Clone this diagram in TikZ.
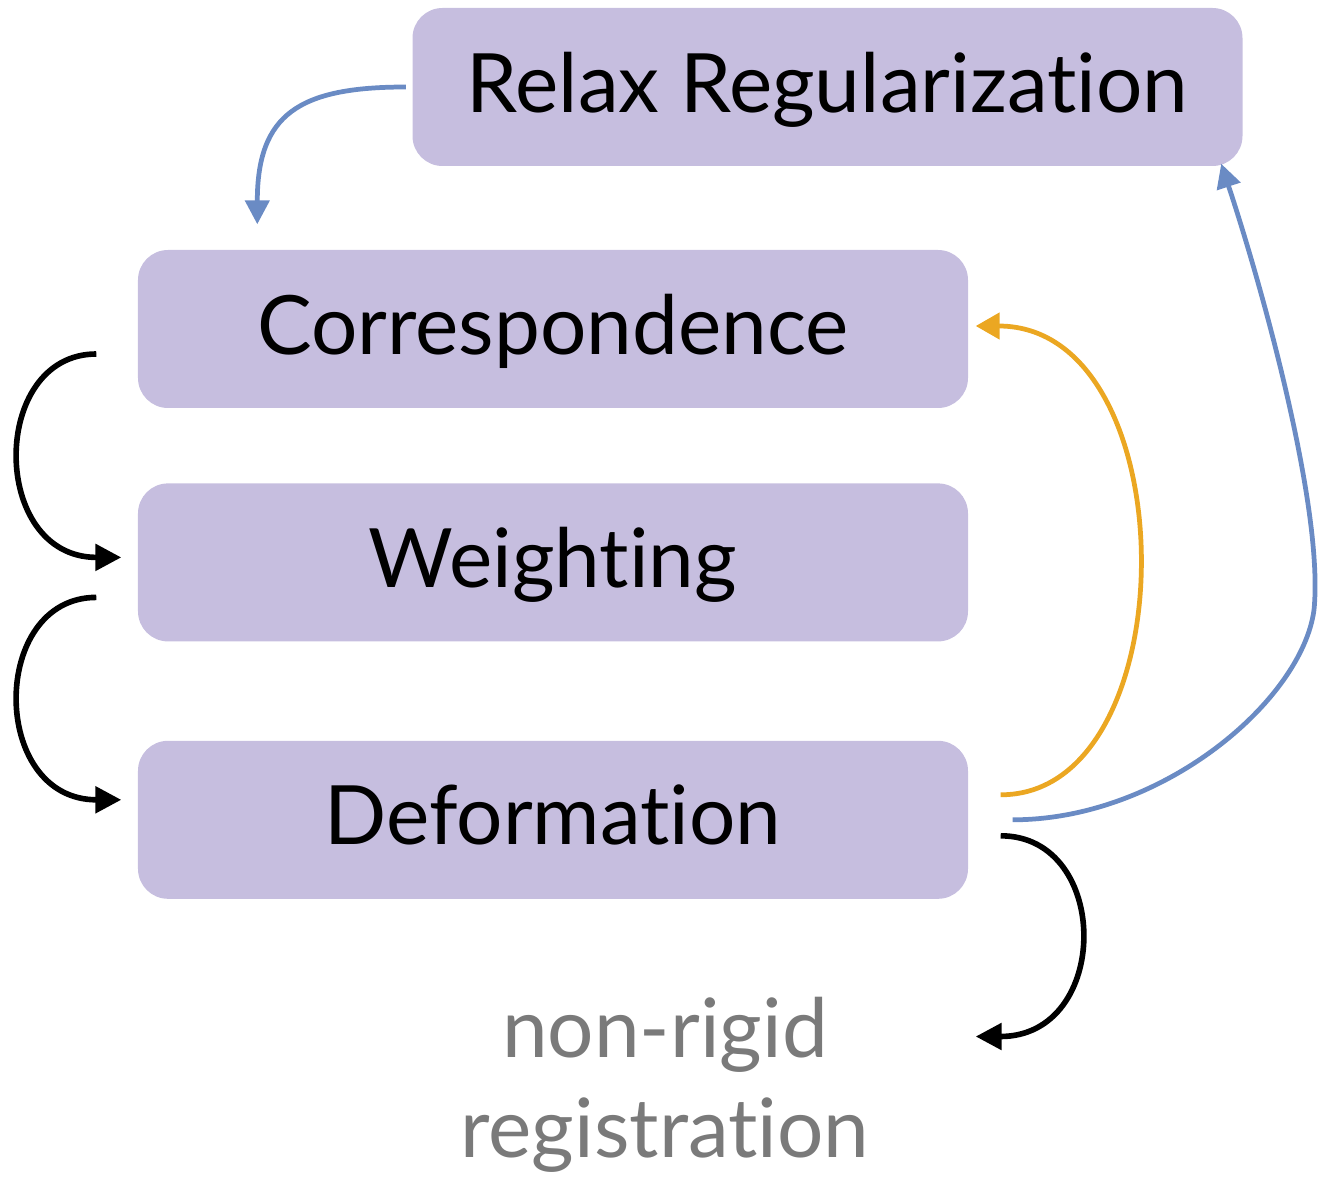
\documentclass[tikz,border=0pt]{standalone}
\usepackage{fontspec}
\setmainfont[Ligatures=NoCommon]{Lato}
\usetikzlibrary{arrows.meta, positioning, calc}
\definecolor{lila}{RGB}{198,190,223}
\definecolor{blau}{RGB}{106,139,196}
\definecolor{orange}{RGB}{235,167,34}
\definecolor{grau}{RGB}{122,122,122}

\begin{document}
\begin{tikzpicture}[
    kasten/.style = {rectangle, fill=lila, rounded corners=0.3cm, inner sep=0pt,
                     minimum width=8.3cm, minimum height=1.58cm, text depth=0.1cm},
    pil/.style = {black, line width=1.6pt, -{Triangle[length=0.26cm, width=0.26cm]}},
    bpil/.style = {blau, line width=1.35pt, -{Triangle[length=0.24cm, width=0.24cm]}},
    opil/.style = {orange, line width=1.35pt, -{Triangle[length=0.24cm, width=0.26cm]}},
    font=\fontsize{23.3}{28.5}\selectfont
    ]
  \useasboundingbox (0,0) rectangle (13.18,-11.78);

  \node[kasten] (k0) at (8.275,-0.87) {Relax Regularization};
  \node[kasten] (k1) at (5.53,-3.29) {Correspondence};
  \node[kasten] (k2) [below=0.74cm of k1] {Weighting};
  \node[kasten] (k3) [below=0.98cm of k2] {Deformation};

  \node[align=center, text=grau] (out) at (6.65,-10.85) {non-rigid\\registration};

  % loop on the left
  \draw[pil] ($(k1.west)+(-0.41,-0.25)$) .. controls +(-1.07,0) and +(-1.32,0) .. ($(k2.west)+(-0.16,0.05)$);
  \draw[pil] ($(k2.west)+(-0.41,-0.35)$) .. controls +(-1.07,0) and +(-1.32,0) .. ($(k3.west)+(-0.16,0.20)$);

  % back to correspondence
  \draw[opil] ($(k3.east)+(0.32,0.25)$) .. controls +(1.88,0) and +(2.13,0) .. ($(k1.east)+(0.07,0.03)$);

  % relaxation loop
  \draw[bpil] ($(k3.east)+(0.44,0)$) .. controls +(1.5,0) and +(-0.12,-0.9) .. (13.14,-6.1)
     .. controls +(0.1,1.0) and +(0.42,-1.27) .. ($(k0.south east)+(-0.22,0.03)$);
  \draw[bpil] ($(k0.west)+(-0.06,0)$) .. controls +(-1.07,0) and +(0,1.10) .. ($(k1.north west)+(1.20,0.25)$);

  % output
  \draw[pil] ($(k3.east)+(0.32,-0.16)$) .. controls +(1.11,0) and +(1.36,0) .. ($(k3.south east)+(0.07,-1.37)$);

\end{tikzpicture}
\end{document}
